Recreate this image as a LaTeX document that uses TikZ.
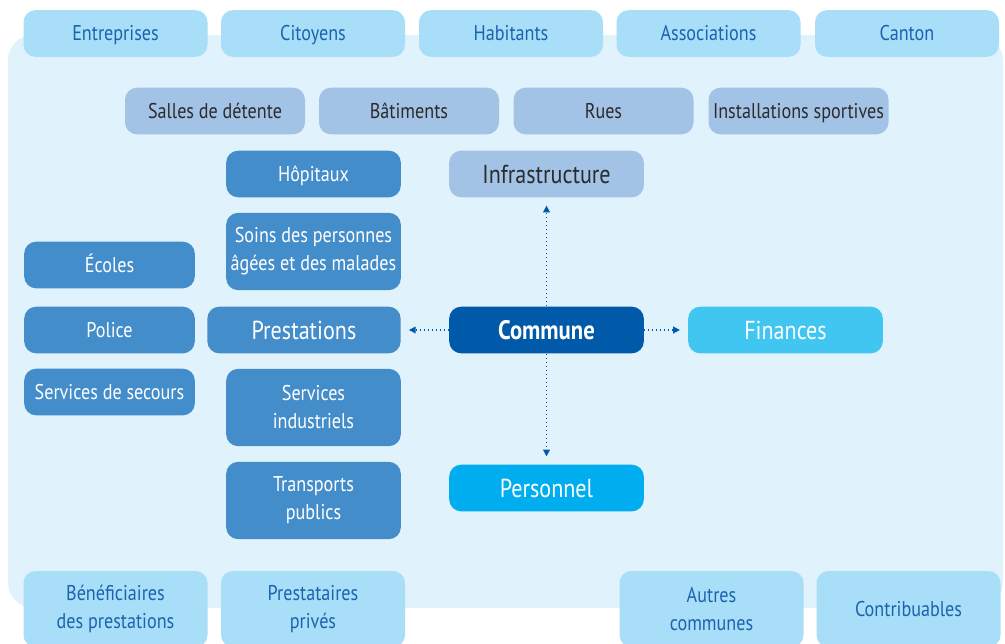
\documentclass[tikz,border=0pt]{standalone}
\usepackage{fontspec}
\setmainfont[FakeStretch=0.85]{PT Sans}
\usepackage{xcolor}
\usepackage{tikz}
\usetikzlibrary{positioning}
\usetikzlibrary{arrows.meta,calc}
\definecolor{panelc}{HTML}{E0F2FB}
\definecolor{outerc}{HTML}{A8DEF8}
\definecolor{outertext}{HTML}{1B63AE}
\definecolor{infrac}{HTML}{A3C3E6}
\definecolor{infratext}{HTML}{2B2B2B}
\definecolor{prestc}{HTML}{448DCB}
\definecolor{communec}{HTML}{0059A9}
\definecolor{financesc}{HTML}{41C6F2}
\definecolor{personnelc}{HTML}{00AEEF}
\tikzstyle{box}=[rounded corners=9pt,inner sep=0pt,align=center,font=\fontsize{16}{21}\selectfont]
\tikzstyle{oneline}=[text height=14pt,text depth=3pt]
\tikzstyle{outerbox}=[box,fill=outerc,text=outertext,minimum width=138pt,minimum height=35pt]
\tikzstyle{bottombox}=[outerbox,minimum height=57pt]
\tikzstyle{infrabox}=[box,oneline,fill=infrac,text=infratext,minimum width=135pt,minimum height=35pt]
\tikzstyle{prestbox}=[box,fill=prestc,text=white,minimum width=131pt,minimum height=35pt]
\tikzstyle{twolinebox}=[prestbox,minimum height=58pt]
\tikzstyle{leftbox}=[prestbox,oneline,minimum width=128pt]
\tikzstyle{mainbox}=[box,text height=17pt,text depth=3.5pt,minimum width=146pt,minimum height=35pt,font=\fontsize{19.5}{21}\selectfont]
\tikzstyle{link}=[draw=communec,line width=1pt,dotted,-{Triangle[length=5pt,width=5pt]},shorten >=6pt]

\begin{document}
\begin{tikzpicture}[x=0.75pt,y=-0.75pt]
    \clip (0,0) rectangle (1005,643);

    % background panel
    \fill[panelc,rounded corners=19pt] (8,35) rectangle (1003,608);

    % actors around the commune
    \foreach \pos/ \name/ \txt in {{(115.5,33.5)/entr/Entreprises}, {(313,33.5)/cit/Citoyens}, {(511,33.5)/hab/Habitants}, {(708.5,33.5)/assoc/Associations}, {(907,33.5)/canton/Canton}}
        \node[outerbox,oneline] (\name) at \pos {\txt};
    \foreach \pos/ \name/ \txt in {{(115.5,609)/benef/{Bénéficiaires\\des prestations}}, {(313,609)/prives/{Prestataires\\privés}}, {(711.5,609)/autres/{Autres\\communes}}}
        \node[bottombox] (\name) at \pos {\txt};
    \node[bottombox,oneline] (contrib) at (908.5,609) {Contribuables};

    % infrastructure
    \foreach \pos/ \name/ \txt in {{(215,111)/salles/Salles de détente}, {(409,111)/bat/Bâtiments}, {(603.5,111)/rues/Rues}, {(798.5,111)/sport/Installations sportives}}
        \node[infrabox] (\name) at \pos {\txt};

    % prestations
    \node[prestbox,oneline] (hopitaux) at (313.5,174) {Hôpitaux};
    \foreach \pos/ \name/ \txt in {{(313.5,251.5)/soins/{Soins des personnes\\âgées et des malades}}, {(313.5,407.5)/indus/{Services\\industriels}}, {(313.5,500.5)/transp/{Transports\\publics}}}
        \node[twolinebox] (\name) at \pos {\txt};
    \foreach \pos/ \name/ \txt in {{(109.5,265)/ecoles/Écoles}, {(109.5,330)/police/Police}, {(109.5,392)/secours/Services de secours}}
        \node[leftbox] (\name) at \pos {\txt};

    % centre
    \node[mainbox,fill=infrac,text=infratext] (infra) at (546.5,174) {Infrastructure};
    \node[mainbox,fill=prestc,text=white,minimum width=145pt] (prest) at (304,330) {Prestations};
    \node[mainbox,fill=communec,text=white,font=\fontsize{20}{21}\selectfont\bfseries] (commune) at (546.5,330) {Commune};
    \node[mainbox,fill=financesc,text=white] (finances) at (785.5,330) {Finances};
    \node[mainbox,fill=personnelc,text=white] (personnel) at (546.5,488) {Personnel};

    \foreach \dest in {infra, prest, finances, personnel}
        \path[link] (commune) -- (\dest);
\end{tikzpicture}
\end{document}
